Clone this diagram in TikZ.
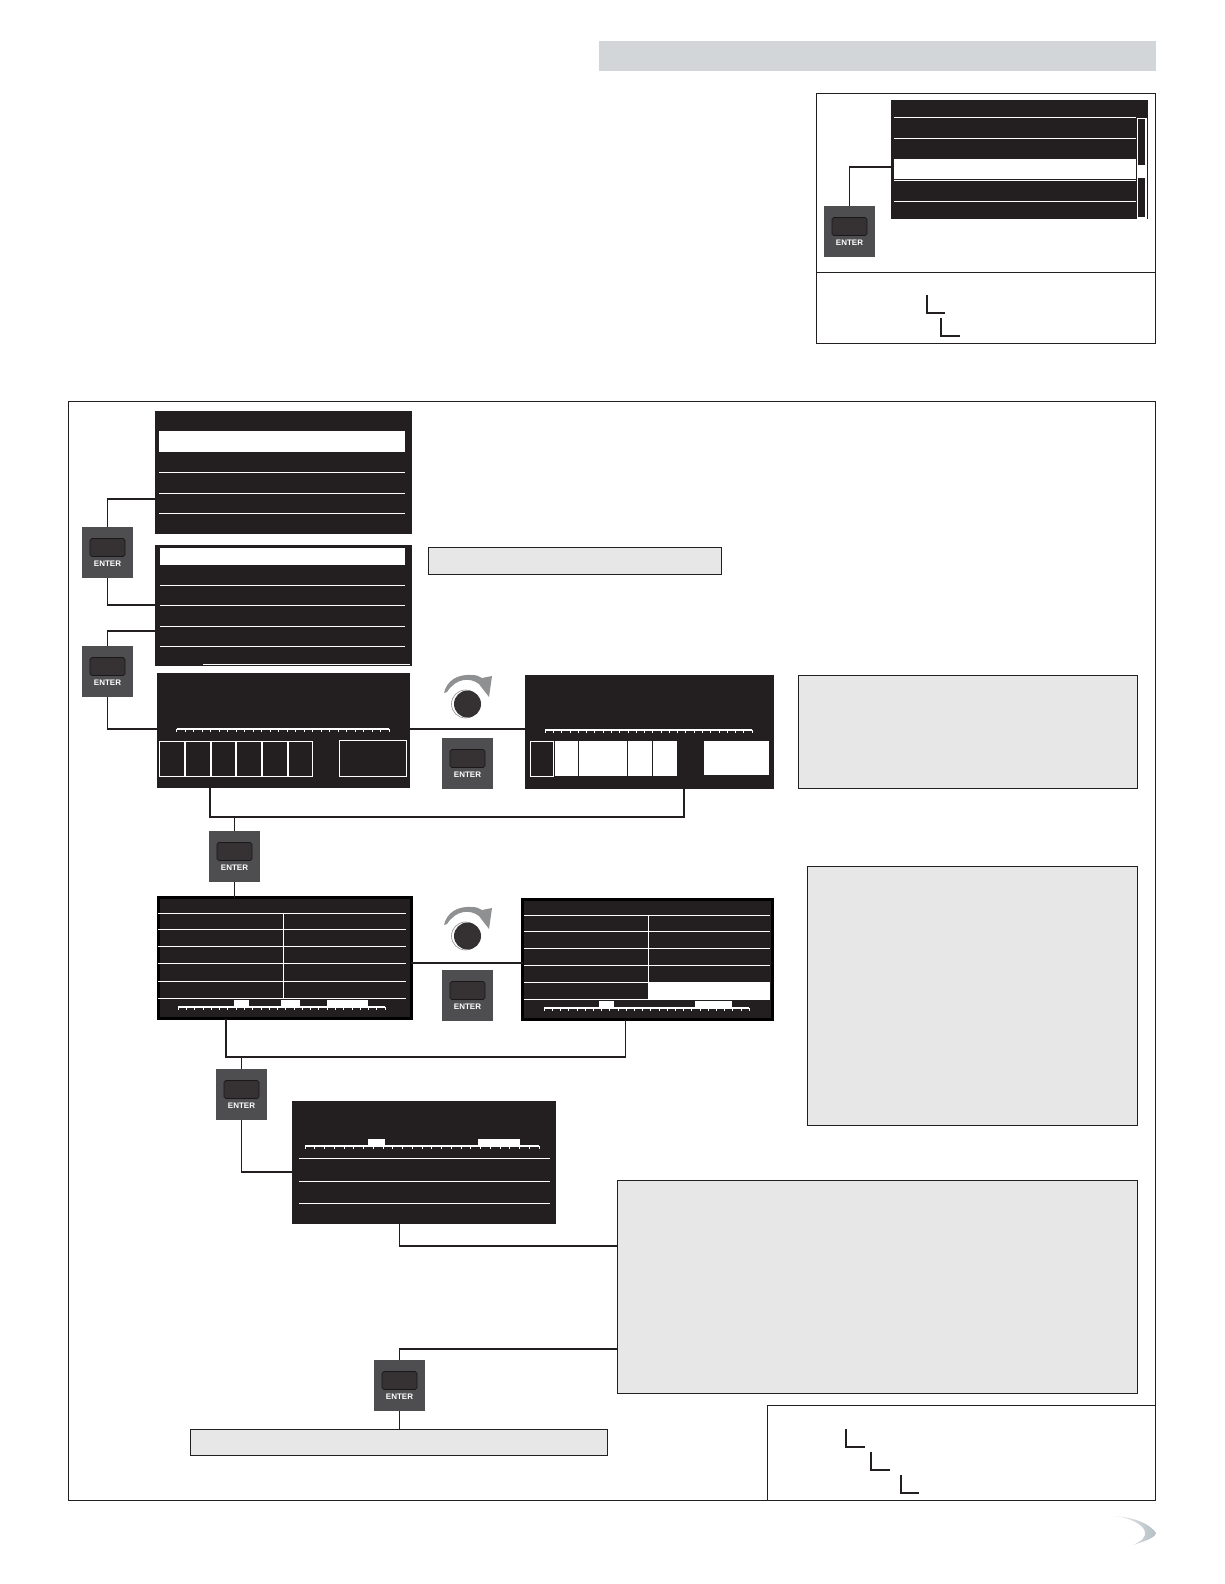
\documentclass[tikz,border=0pt]{standalone}
\usepackage{fontspec}
\setmainfont{Liberation Sans}
\definecolor{ink}{HTML}{231F20}
\definecolor{panelgray}{HTML}{E7E7E8}
\definecolor{barblue}{HTML}{D2D6D9}
\definecolor{keygray}{HTML}{4E4D4F}
\definecolor{btn}{HTML}{363132}
\definecolor{arcgray}{HTML}{8E9091}
\definecolor{logogray}{HTML}{B4BFC5}
\tikzset{
  x=1pt,y=-1pt,
  conn/.style={draw=ink,line width=1.8pt},
  frame/.style={draw=ink,line width=.9pt,fill=white,inner sep=0pt,outer sep=0pt},
  graybox/.style={frame,fill=panelgray},
  screen/.style={fill=ink,inner sep=0pt,outer sep=0pt},
  blackscreen/.style={fill=ink,draw=black,line width=3pt,inner sep=0pt,outer sep=0pt},
  sline/.style={draw=white,line width=1pt},
  cellbox/.style={draw=white,line width=.9pt},
  rulerline/.style={draw=white,line width=1.6pt},
  rulertick/.style={draw=white,line width=.6pt},
  corner/.style={draw=ink,line width=1.4pt},
  keybox/.style={fill=keygray,inner sep=0pt,outer sep=0pt,minimum width=51pt,minimum height=51pt},
  keybtn/.style={fill=btn,draw=black!90,line width=.7pt,rounded corners=1.8pt,inner sep=0pt,outer sep=0pt,minimum width=35pt,minimum height=18pt},
  keytext/.style={text=white,font=\fontsize{8}{8}\selectfont\bfseries,inner sep=0pt,outer sep=0pt},
}
% rectangle node given by its corners
\newcommand{\rectnode}[6]{\node[#1,minimum width={(#5-#3)*1pt},minimum height={(#6-#4)*1pt}] (#2) at ({(#3+#5)/2},{(#4+#6)/2}) {};}
% ENTER key given by its upper left corner
\newcommand{\enterkey}[3]{%
  \node[keybox] (#1) at ({#2+25.5},{#3+25.5}) {};
  \node[keybtn] (#1b) at ({#2+25.5},{#3+20.5}) {};
  \node[keytext] (#1t) at ({#2+25.5},{#3+36.5}) {ENTER};}
% ruler: x1, x2, y, intervals
\newcommand{\ruler}[4]{%
  \draw[rulerline] (#1,#3) -- (#2,#3);
  \foreach \i in {0,...,#4} \draw[rulertick] ({#1+\i*(#2-#1)/#4},#3) -- ++(0,2.6);}
% knob and its arrow, given a vertical offset
\newcommand{\knob}[2]{%
  \begin{scope}[yshift={-(#2)*1pt}]
    \fill[arcgray] (444,693) .. controls (447,680) and (458,674) .. (472,675)
      .. controls (476,675) and (479,676) .. (482,678) -- (492,676) -- (489,697) -- (479,684)
      .. controls (470,677) and (456,678) .. (447,692) -- cycle;
    \node[circle,fill=white,draw=arcgray,line width=.6pt,minimum size=28pt,inner sep=0pt,outer sep=0pt] (#1o) at (465.5,704) {};
    \node[circle,fill=ink!92!white,minimum size=27pt,inner sep=0pt,outer sep=0pt] (#1) at (467.5,704) {};
  \end{scope}}
\begin{document}
\begin{tikzpicture}
\useasboundingbox (0,0) rectangle (1224,1584);
\fill[white] (0,0) rectangle (1224,1584);

% header bar
\rectnode{fill=barblue,inner sep=0pt,outer sep=0pt}{headbar}{599}{41}{1156}{71}

% top right panel
\rectnode{frame}{panel}{816}{93}{1155}{343}
\draw[draw=ink,line width=.9pt] (panel.west |- 0,272) -- (panel.east |- 0,272);
\rectnode{screen}{scrT}{891}{100}{1148}{219}
\draw[sline] (894,118) -- (1136,118);
\draw[sline] (894,139) -- (1136,139);
\fill[white] (894,159) rectangle (1136,179);
\draw[sline] (894,180) -- (1136,180);
\draw[sline] (894,201) -- (1136,201);
\draw[draw=white,line width=1.3pt] (1137.5,118.5) rectangle (1146,218);
\fill[white] (1138,165) rectangle (1145.5,178);
\enterkey{kT}{824}{206}
\draw[conn] (scrT.west |- 0,167) -| (kT.north);
\draw[corner] (927,295) |- (945,313);
\draw[corner] (941,318) |- (960,336);

% main frame
\rectnode{draw=ink,line width=.9pt,inner sep=0pt,outer sep=0pt}{mainframe}{68}{401}{1155}{1500}

% right hand gray boxes
\rectnode{graybox}{noteA}{428}{547}{721}{574}
\rectnode{graybox}{noteB}{798}{675}{1137}{788}
\rectnode{graybox}{noteC}{807}{866}{1137}{1125}
\rectnode{graybox}{noteD}{617}{1180}{1137}{1393}
\rectnode{graybox}{noteE}{190}{1429}{607}{1455}

% legend box
\rectnode{frame}{legend}{767}{1405}{1155}{1500}
\draw[corner] (846,1429) |- (865,1447);
\draw[corner] (871,1452) |- (890,1470);
\draw[corner] (901,1475) |- (919,1493);

% keys
\enterkey{kA}{82}{527}
\enterkey{kB}{82}{646}
\enterkey{kC}{209}{831}
\enterkey{kD}{216}{1069}
\enterkey{kE}{374}{1360}
\enterkey{kF}{442}{738}
\enterkey{kG}{442}{970}

% menu screen A
\rectnode{screen}{scrA}{155}{411}{412}{534}
\fill[white] (159,431) rectangle (405,452);
\foreach \yy in {472,493,513} \draw[sline] (159,\yy) -- (405,\yy);

% menu screen B
\rectnode{screen}{scrB}{155}{545}{412}{666}
\fill[white] (160,548) rectangle (405,565);
\foreach \yy in {585,605,626,646} \draw[sline] (160,\yy) -- (405,\yy);
\draw[sline] (203,664) -- (410,664);

% screen C
\rectnode{screen}{scrC}{157}{673}{410}{788}
\ruler{176.5}{389}{729}{25}
\draw[cellbox] (159,741) rectangle (184,776);
\draw[cellbox] (185,741) rectangle (210,776);
\draw[cellbox] (211,741) rectangle (235.4,776);
\draw[cellbox] (236,741) rectangle (261,776);
\draw[cellbox] (262,741) rectangle (287,776);
\draw[cellbox] (288,741) rectangle (312,776);
\draw[cellbox] (339,740) rectangle (406,776);

% screen D
\rectnode{screen}{scrD}{525}{675}{774}{789}
\ruler{545}{752}{730}{25}
\draw[cellbox] (530,741) rectangle (553,776);
\fill[white] (554.5,741) rectangle (578.2,776);
\fill[white] (579.2,741) rectangle (627.3,776);
\fill[white] (628.3,741) rectangle (652.2,776);
\fill[white] (653.2,741) rectangle (677.3,776);
\fill[white] (703.5,741) rectangle (768.6,775);

% screen E
\rectnode{blackscreen}{scrE}{158}{897.5}{411}{1018.5}
\foreach \yy in {913,929,946,963,981,998} \draw[sline] (158,\yy) -- (406,\yy);
\draw[sline] (283.6,913) -- (283.6,998);
\fill[white] (234,1000) rectangle (249,1007);
\fill[white] (281,1000) rectangle (300,1007);
\fill[white] (327,1000) rectangle (368,1007);
\ruler{178}{385}{1007}{25}

% screen F
\rectnode{blackscreen}{scrF}{522.5}{899.5}{772.5}{1019.5}
\foreach \yy in {915,931,948,965,982,999} \draw[sline] (524,\yy) -- (769.5,\yy);
\draw[sline] (648,915) -- (648,999);
\fill[white] (648,982) rectangle (769.5,998.5);
\fill[white] (598.5,1001) rectangle (613.5,1008);
\fill[white] (695,1001) rectangle (732,1008);
\ruler{544}{749}{1008}{25}

% screen G
\rectnode{screen}{scrG}{292}{1101}{556}{1224}
\fill[white] (368,1139) rectangle (385,1146);
\fill[white] (478,1139) rectangle (520,1146);
\ruler{305}{539}{1146}{24}
\foreach \yy in {1158,1181,1203} \draw[sline] (299,\yy) -- (550,\yy);

% connectors
\draw[conn] (kA.north) |- (scrA.west |- 0,499);
\draw[conn] (kA.south) |- (scrB.west |- 0,605);
\draw[conn] (kB.north) |- (scrB.west |- 0,631);
\draw[conn] (kB.south) |- (scrC.west |- 0,729);
\draw[conn] (scrC.east |- 0,729) -- (scrD.west |- 0,729);
\coordinate (busCL) at (210,817);
\coordinate (busCR) at (684,817);
\draw[conn] (scrC.south -| busCL) -- (busCL) -- (busCR) -- (scrD.south -| busCR);
\draw[conn] (kC.north) -- (kC.north |- busCL);
\draw[conn] (kC.south) -- (kC.south |- scrE.north);
\draw[conn] (scrE.east |- 0,963) -- (scrF.west |- 0,963);
\coordinate (busDL) at (226,1057);
\coordinate (busDR) at (625.5,1057);
\draw[conn,line width=1.3pt] (scrE.south -| busDL) -- (busDL) -- (busDR) -- (scrF.south -| busDR);
\draw[conn] (kD.north) -- (kD.north |- busDL);
\draw[conn] (kD.south) |- (scrG.west |- 0,1172);
\draw[conn] (scrG.south -| kE.north) |- (noteD.west |- 0,1246);
\draw[conn] (noteD.west |- 0,1349) -| (kE.north);
\draw[conn] (kE.south) -- (kE.south |- noteE.north);

% knobs
\knob{knA}{0}
\knob{knB}{232}

% logo
\shade[left color=black!6,right color=logogray] (1112,1516)
  .. controls (1135,1517) and (1150,1524) .. (1156,1533)
  .. controls (1155,1538) and (1145,1541) .. (1133,1545)
  .. controls (1142,1541) and (1146,1537) .. (1145,1532)
  .. controls (1144,1525) and (1130,1517) .. (1112,1516) -- cycle;
\end{tikzpicture}
\end{document}
